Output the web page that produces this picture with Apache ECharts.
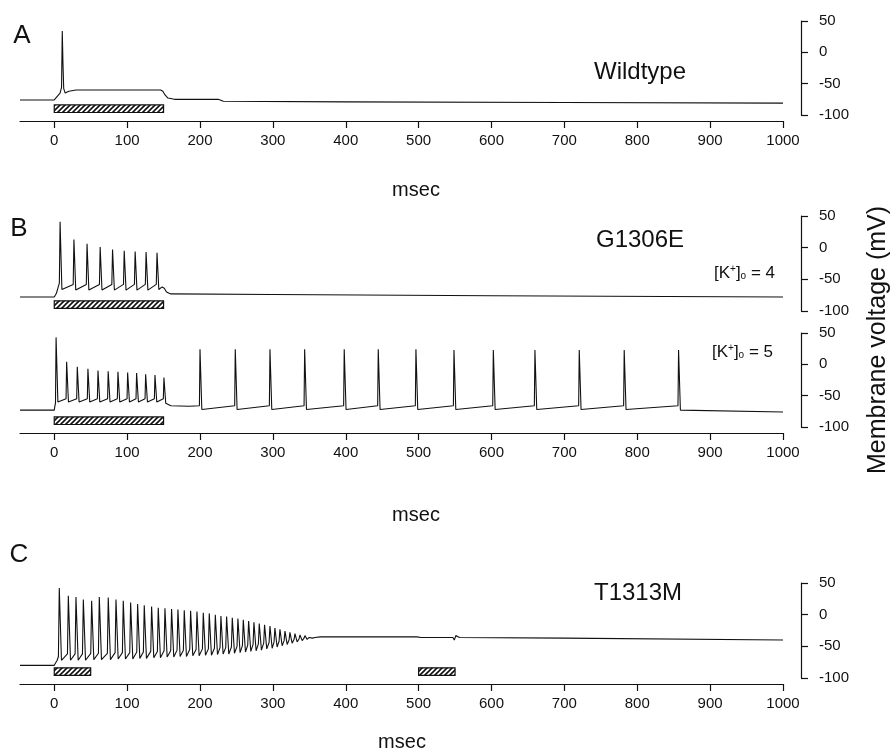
<!DOCTYPE html>
<html><head><meta charset="utf-8">
<script src="https://cdn.jsdelivr.net/npm/echarts@6/dist/echarts.min.js"></script>
<style>html,body{margin:0;padding:0;background:#fff}#c{width:894px;height:754px}</style>
</head><body><div id="c"></div>
<script>
// ---------- axis ticks ----------
const xTicks = [0,100,200,300,400,500,600,700,800,900,1000];
const X_MIN = -47, X_MAX = 1000;
const Y_MIN = -100, Y_MAX = 50;

// ---------- Panel A: Wildtype ----------
const wtTrace = [[-47,-76],[0,-76],[2,-73],[5,-69],[8,-65],[10,-56],[11,34],[12,-20],[13,-58],[15,-65],[20,-62],[30,-60],[60,-60],[100,-60],[146,-60],[149,-62],[152,-68],[156,-73],[165,-75],[225,-75],[232,-78],[400,-79],[700,-80],[1000,-81]];
const wtStim = [[0,150]];

// ---------- Panel B top: G1306E, [K+]o = 4 ----------
const g4Start = [[-47,-78],[0,-78],[3,-72],[5,-64]];
const g4SpikeT = [8,27,45,63,80,96,111,126,141];
const g4Pre = [-56,-58,-58,-58,-58,-58,-58,-58,-58];
const g4Peak = [41,13,6,1,-3,-5,-6,-7,-8];
const g4Trough = [-66,-67,-67,-67,-67,-67,-67,-67,-66];
const g4End = [[148,-62],[151,-64],[154,-70],[160,-73],[300,-74],[600,-76],[1000,-78]];
const g4Stim = [[0,150]];

// ---------- Panel B bottom: G1306E, [K+]o = 5 ----------
const g5Start = [[-47,-73],[0,-73],[1,-66]];
const g5SpikeT = [2.5,17,31.6,46.2,60,74,87.4,100.7,113,125.4,138.2,150.5,200,248.4,296,343.6,397.9,444.6,496.3,548.5,602.5,659.6,720.4,782.1,856.7];
const g5Pre = [-62,-55,-55,-55,-55,-55,-55,-55,-55,-55,-55,-55,-66,-66,-66,-66,-66,-66,-66,-66,-66,-66,-66,-66,-66];
const g5Peak = [43,4,-4,-7,-10,-11,-12,-13,-14,-16,-17,-21,24,24,24,24,24,24,24,23,23,23,23,23,23];
const g5Trough = [-60,-60,-60,-60,-60,-60,-60,-60,-60,-60,-60,-62,-72,-72,-72,-72,-72,-72,-72,-72,-72,-72,-72,-72,-73];
const g5Between = [[160,-66],[185,-67]];
const g5End = [[1000,-76]];
const g5Stim = [[0,150]];

// ---------- Panel C: T1313M ----------
const tmStart = [[-47,-80],[0,-80],[2,-78],[4,-72]];
const tmSpikeT = [6.9,19.3,29.8,39.9,51.3,61.8,74.1,84.7,94.7,104.8,114.4,123.5,133.6,142.7,151.9,161,169.7,178.4,187.1,195.8,204.5,212.7,221,228.7,236.5,244.3,252,259.4,266.7,274,281.3,288.6,296,302.8,309.7,316.6,323.4,330.3,337.2,344,351];
const tmPre = [-66,-62,-62,-62,-61,-61,-61,-60,-60,-60,-59,-59,-58,-58,-57,-57,-56,-56,-55,-55,-54,-54,-53,-52,-52,-51,-50,-49,-48,-47,-46,-45,-44,-43,-42,-41,-40,-39,-38,-37,-36];
const tmPeak = [42,30,28,24,22,28,27,24,22,19,17,15,13,11,10,9,8,7,6,5,3,2,0,-2,-3,-5,-6,-8,-10,-12,-14,-16,-18,-21,-23,-26,-28,-30,-32,-33,-34];
const tmTrough = [-72,-72,-72,-72,-71,-71,-71,-70,-70,-70,-69,-69,-68,-68,-67,-67,-66,-66,-65,-65,-64,-64,-63,-62,-62,-61,-60,-59,-58,-57,-56,-54,-53,-51,-49,-47,-45,-43,-41,-39,-37];
const tmEnd = [[358,-36],[365,-35],[498,-35],[500,-33],[503,-36],[547,-36],[549,-40],[551,-33],[556,-36],[700,-37],[1000,-40]];
const tmStim = [[0,50],[500,550]];

// ---------- build traces from read values ----------
function train(times, pre, peaks, troughs, rise, fall) {
  const out = [];
  times.forEach((t, i) => {
    out.push([t - rise, pre[i]], [t, peaks[i]], [t + fall, troughs[i]]);
  });
  return out;
}
const g4Trace = g4Start.concat(train(g4SpikeT, g4Pre, g4Peak, g4Trough, 1.0, 2.5), g4End);
const g5All = train(g5SpikeT, g5Pre, g5Peak, g5Trough, 0.8, 2.5);
const g5Trace = g5Start.concat(g5All.slice(0, 36), g5Between, g5All.slice(36), g5End);
const tmTrace = tmStart.concat(train(tmSpikeT, tmPre, tmPeak, tmTrough, 1.2, 3.0), tmEnd);

// ---------- hatch pattern ----------
const cv = document.createElement('canvas');
cv.width = 5; cv.height = 5;
const cx = cv.getContext('2d');
cx.fillStyle = '#fff'; cx.fillRect(0,0,5,5);
cx.strokeStyle = '#111'; cx.lineWidth = 1.6;
cx.beginPath();
cx.moveTo(0,5); cx.lineTo(5,0);
cx.moveTo(-1,1); cx.lineTo(1,-1);
cx.moveTo(4,6); cx.lineTo(6,4);
cx.stroke();
const hatch = {image: cv, repeat: 'repeat'};
const STIM_TOP = -84, STIM_BOT = -96;

const FONT = '"Liberation Sans", Arial, Helvetica, sans-serif';
const INK = '#111';

const panels = [
  {top: 21, height: 94, showX: true, trace: wtTrace, stim: wtStim},
  {top: 216, height: 95, showX: false, trace: g4Trace, stim: g4Stim},
  {top: 333, height: 94, showX: true, trace: g5Trace, stim: g5Stim},
  {top: 583, height: 95, showX: true, trace: tmTrace, stim: tmStim}
];

const grid = [], xAxis = [], yAxis = [], series = [];
panels.forEach((p, i) => {
  grid.push({left: 20, width: 763, top: p.top, height: p.height});
  xAxis.push({
    type: 'value', gridIndex: i, min: X_MIN, max: X_MAX, offset: 6,
    show: p.showX, position: 'bottom',
    splitLine: {show: false},
    axisLine: {show: true, onZero: false, lineStyle: {color: INK, width: 1.2}},
    axisTick: {show: true, length: 7, customValues: xTicks, lineStyle: {color: INK, width: 1.2}},
    axisLabel: {show: true, customValues: xTicks, formatter: v => String(v), fontSize: 15, color: INK, fontFamily: FONT, margin: 12}
  });
  yAxis.push({
    type: 'value', gridIndex: i, position: 'right', offset: 18,
    min: Y_MIN, max: Y_MAX, interval: 50,
    splitLine: {show: false},
    axisLine: {show: true, onZero: false, lineStyle: {color: INK, width: 1.2}},
    axisTick: {show: true, length: 7, lineStyle: {color: INK, width: 1.2}},
    axisLabel: {fontSize: 15, color: INK, fontFamily: FONT, margin: 18}
  });
  series.push({
    type: 'line', xAxisIndex: i, yAxisIndex: i, data: p.trace,
    showSymbol: false, symbol: 'none', animation: false, clip: true,
    lineStyle: {color: INK, width: 1.1}
  });
  series.push({
    type: 'custom', xAxisIndex: i, yAxisIndex: i, data: p.stim, animation: false,
    encode: {x: [0, 1]},
    renderItem: function (params, api) {
      const a = api.coord([api.value(0), STIM_TOP]);
      const b = api.coord([api.value(1), STIM_BOT]);
      return {type: 'rect', shape: {x: a[0], y: a[1], width: b[0] - a[0], height: b[1] - a[1]},
        style: {fill: hatch, stroke: INK, lineWidth: 1.2}};
    }
  });
});

function txt(x, y, s, size, extra) {
  return Object.assign({type: 'text', x: x, y: y,
    style: {text: s, fontSize: size, fontFamily: FONT, fill: INK, align: 'center', verticalAlign: 'middle'}}, extra || {});
}
const kRich = {s: {fontSize: 10, fontFamily: FONT, fill: INK, verticalAlign: 'top', padding: [0,0,6,0]},
               o: {fontSize: 10, fontFamily: FONT, fill: INK, verticalAlign: 'bottom', padding: [6,0,0,0]}};

const graphic = [
  txt(22, 36, 'A', 26), txt(19, 229, 'B', 26), txt(19, 555, 'C', 26),
  txt(640, 72, 'Wildtype', 24), txt(640, 240, 'G1306E', 24), txt(638, 593, 'T1313M', 24),
  txt(416, 190, 'msec', 20), txt(416, 515, 'msec', 20), txt(402, 742, 'msec', 20),
  txt(878, 340, 'Membrane voltage (mV)', 25, {rotation: Math.PI / 2}),
  {type: 'text', x: 775, y: 273, style: {text: '[K{s|+}]{o|o} = 4', fontSize: 17, fontFamily: FONT, fill: INK, align: 'right', verticalAlign: 'middle', rich: kRich}},
  {type: 'text', x: 773, y: 352, style: {text: '[K{s|+}]{o|o} = 5', fontSize: 17, fontFamily: FONT, fill: INK, align: 'right', verticalAlign: 'middle', rich: kRich}}
];

const chart = echarts.init(document.getElementById('c'), null, {renderer: 'canvas'});
chart.setOption({animation: false, backgroundColor: '#fff', grid, xAxis, yAxis, series, graphic});
</script></body></html>
